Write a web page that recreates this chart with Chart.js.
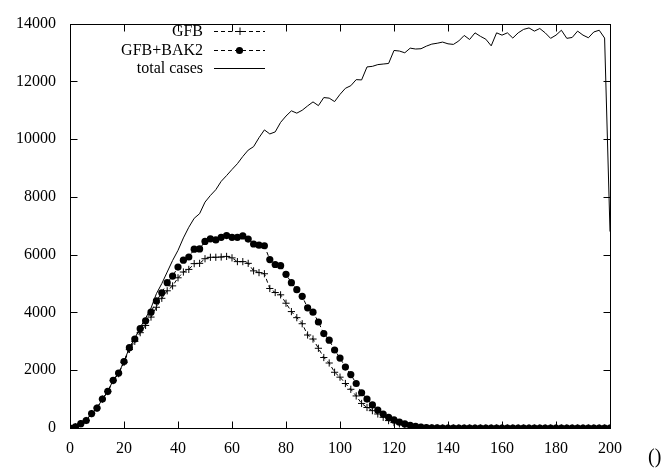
<!DOCTYPE html>
<html>
<head>
<meta charset="utf-8">
<script src="https://cdn.jsdelivr.net/npm/chart.js@4.4.0/dist/chart.umd.min.js"></script>
<style>
  html, body { margin: 0; padding: 0; background: #fff; }
  #wrap { width: 665px; height: 472px; }
</style>
</head>
<body>
<div id="wrap"><canvas id="chart" width="665" height="472"></canvas></div>
<script>
const xSteps = [0, 2, 4, 6, 8, 10, 12, 14, 16, 18, 20, 22, 24, 26, 28, 30, 32, 34, 36, 38,
  40, 42, 44, 46, 48, 50, 52, 54, 56, 58, 60, 62, 64, 66, 68, 70, 72, 74, 76, 78,
  80, 82, 84, 86, 88, 90, 92, 94, 96, 98, 100, 102, 104, 106, 108, 110, 112, 114, 116, 118,
  120, 122, 124, 126, 128, 130, 132, 134, 136, 138, 140, 142, 144, 146, 148, 150, 152, 154, 156, 158,
  160, 162, 164, 166, 168, 170, 172, 174, 176, 178, 180, 182, 184, 186, 188, 190, 192, 194, 196, 198, 200];

const gfb = [0, 40, 150, 260, 500, 690, 1000, 1260, 1640, 1880, 2270, 2720, 3000, 3300, 3550, 3840, 4180, 4490, 4750, 4920,
  5200, 5400, 5490, 5690, 5700, 5860, 5910, 5910, 5920, 5940, 5890, 5760, 5760, 5700, 5440, 5380, 5340, 4830, 4690, 4610,
  4320, 4030, 3820, 3610, 3220, 3080, 2760, 2440, 2250, 1930, 1760, 1540, 1340, 1110, 850, 710, 600, 485, 370, 256,
  188, 143, 96, 60, 35, 20, 10, 5, 2, 0, 0, 0, 0, 0, 0, 0, 0, 0, 0, 0,
  0, 0, 0, 0, 0, 0, 0, 0, 0, 0, 0, 0, 0, 0, 0, 0, 0, 0, 0, 0, 0];

const gfbBak2 = [0, 40, 150, 260, 500, 690, 1000, 1270, 1650, 1900, 2300, 2780, 3080, 3440, 3710, 4010, 4400, 4680, 5030, 5260,
  5570, 5810, 5920, 6190, 6200, 6460, 6550, 6510, 6600, 6660, 6600, 6600, 6650, 6540, 6370, 6330, 6310, 5830, 5660, 5620,
  5320, 5030, 4790, 4560, 4160, 4010, 3670, 3270, 3040, 2700, 2420, 2110, 1850, 1540, 1220, 1000, 800, 620, 485, 370,
  280, 200, 140, 95, 60, 30, 15, 8, 4, 0, 0, 0, 0, 0, 0, 0, 0, 0, 0, 0,
  0, 0, 0, 0, 0, 0, 0, 0, 0, 0, 0, 0, 0, 0, 0, 0, 0, 0, 0, 0, 0];

const totalCases = [0, 40, 150, 260, 500, 690, 1000, 1270, 1650, 1900, 2300, 2780, 3100, 3480, 3800, 4150, 4650, 5000, 5400, 5800,
  6150, 6580, 6950, 7260, 7420, 7820, 8050, 8250, 8540, 8740, 8950, 9150, 9400, 9620, 9740, 10050, 10320, 10180, 10250, 10580,
  10800, 10980, 10900, 11000, 11150, 11290, 11160, 11440, 11420, 11300, 11550, 11760, 11850, 12060, 12050, 12500, 12520, 12580, 12600, 12620,
  13070, 13050, 12990, 13150, 13120, 13130, 13220, 13290, 13320, 13360, 13300, 13280, 13400, 13590, 13450, 13680, 13560, 13460, 13230, 13680,
  13600, 13680, 13500, 13680, 13800, 13850, 13740, 13830, 13680, 13490, 13600, 13770, 13490, 13520, 13740, 13600, 13510, 13710, 13770, 13500, 6800];

const seriesNames = ["GFB", "GFB+BAK2", "total cases"];
const xAxisTitle = "()";

const FONT = "'Liberation Serif', 'Times New Roman', serif";

const pts = arr => arr.map((v, i) => ({ x: xSteps[i], y: v }));

// gnuplot-ish frame, inward ticks, legend and the lonely "()" label
const framePlugin = {
  id: "frame",
  afterDraw(chart) {
    const { ctx, chartArea: a, scales: { x, y } } = chart;
    const L = Math.round(a.left) + 0.5, R = Math.round(a.right) + 0.5;
    const T = Math.round(a.top) + 0.5, B = Math.round(a.bottom) + 0.5;
    const tick = 7;
    ctx.save();
    ctx.strokeStyle = "#000";
    ctx.lineWidth = 1;
    ctx.setLineDash([]);
    ctx.strokeRect(L, T, R - L, B - T);

    ctx.beginPath();
    x.ticks.forEach(t => {
      const px = Math.round(x.getPixelForValue(t.value)) + 0.5;
      ctx.moveTo(px, B); ctx.lineTo(px, B - tick);
      ctx.moveTo(px, T); ctx.lineTo(px, T + tick);
    });
    y.ticks.forEach(t => {
      const py = Math.round(y.getPixelForValue(t.value)) + 0.5;
      ctx.moveTo(L, py); ctx.lineTo(L + tick, py);
      ctx.moveTo(R, py); ctx.lineTo(R - tick, py);
    });
    ctx.stroke();

    // legend
    ctx.font = "16px " + FONT;
    ctx.fillStyle = "#000";
    ctx.textAlign = "right";
    ctx.textBaseline = "middle";
    const rows = [31, 50, 68];
    const textRight = 203, s0 = 214, s1 = 265, sm = (s0 + s1) / 2;
    seriesNames.forEach((name, i) => {
      const ry = rows[i];
      ctx.fillText(name, textRight, ry + 1);
      ctx.beginPath();
      ctx.setLineDash(i < 2 ? [4, 3] : []);
      ctx.moveTo(s0, ry + 0.5); ctx.lineTo(s1, ry + 0.5);
      ctx.stroke();
      ctx.setLineDash([]);
      if (i === 0) {
        ctx.beginPath();
        ctx.moveTo(sm - 3.5, ry + 0.5); ctx.lineTo(sm + 3.5, ry + 0.5);
        ctx.moveTo(sm + 0.5, ry - 3.5); ctx.lineTo(sm + 0.5, ry + 4);
        ctx.stroke();
      } else if (i === 1) {
        ctx.beginPath();
        ctx.arc(sm, ry + 0.5, 3.6, 0, Math.PI * 2);
        ctx.fill();
      }
    });

    ctx.font = "20px " + FONT;
    ctx.textAlign = "left";
    ctx.fillText(xAxisTitle, 648, 458);
    ctx.restore();
  }
};

new Chart(document.getElementById("chart"), {
  type: "line",
  data: {
    datasets: [
      {
        label: seriesNames[0],
        data: pts(gfb),
        borderColor: "#000",
        backgroundColor: "#000",
        borderWidth: 1,
        borderDash: [4, 3],
        pointStyle: "cross",
        pointRadius: 3.6,
        pointBorderWidth: 1,
        tension: 0
      },
      {
        label: seriesNames[1],
        data: pts(gfbBak2),
        borderColor: "#000",
        backgroundColor: "#000",
        borderWidth: 1,
        borderDash: [4, 3],
        pointStyle: "circle",
        pointRadius: 3.6,
        pointBorderWidth: 0,
        tension: 0
      },
      {
        label: seriesNames[2],
        data: pts(totalCases),
        borderColor: "#000",
        borderWidth: 1,
        pointRadius: 0,
        tension: 0
      }
    ]
  },
  options: {
    responsive: false,
    animation: false,
    devicePixelRatio: 1,
    layout: { padding: { top: 18, right: 55, bottom: 0, left: 0 } },
    plugins: {
      legend: { display: false },
      tooltip: { enabled: false }
    },
    scales: {
      x: {
        type: "linear",
        min: 0,
        max: 200,
        grid: { display: false, drawTicks: false },
        border: { display: false },
        ticks: {
          stepSize: 20,
          padding: 11,
          color: "#000",
          maxRotation: 0,
          font: { family: FONT, size: 16 },
          callback: v => String(v)
        },
        afterFit: s => { s.height = 44; }
      },
      y: {
        min: 0,
        max: 14000,
        grid: { display: false, drawTicks: false },
        border: { display: false },
        ticks: {
          stepSize: 2000,
          padding: 14,
          color: "#000",
          font: { family: FONT, size: 16 },
          callback: v => String(v)
        },
        afterFit: s => { s.width = 70; }
      }
    }
  },
  plugins: [framePlugin]
});
</script>
</body>
</html>
